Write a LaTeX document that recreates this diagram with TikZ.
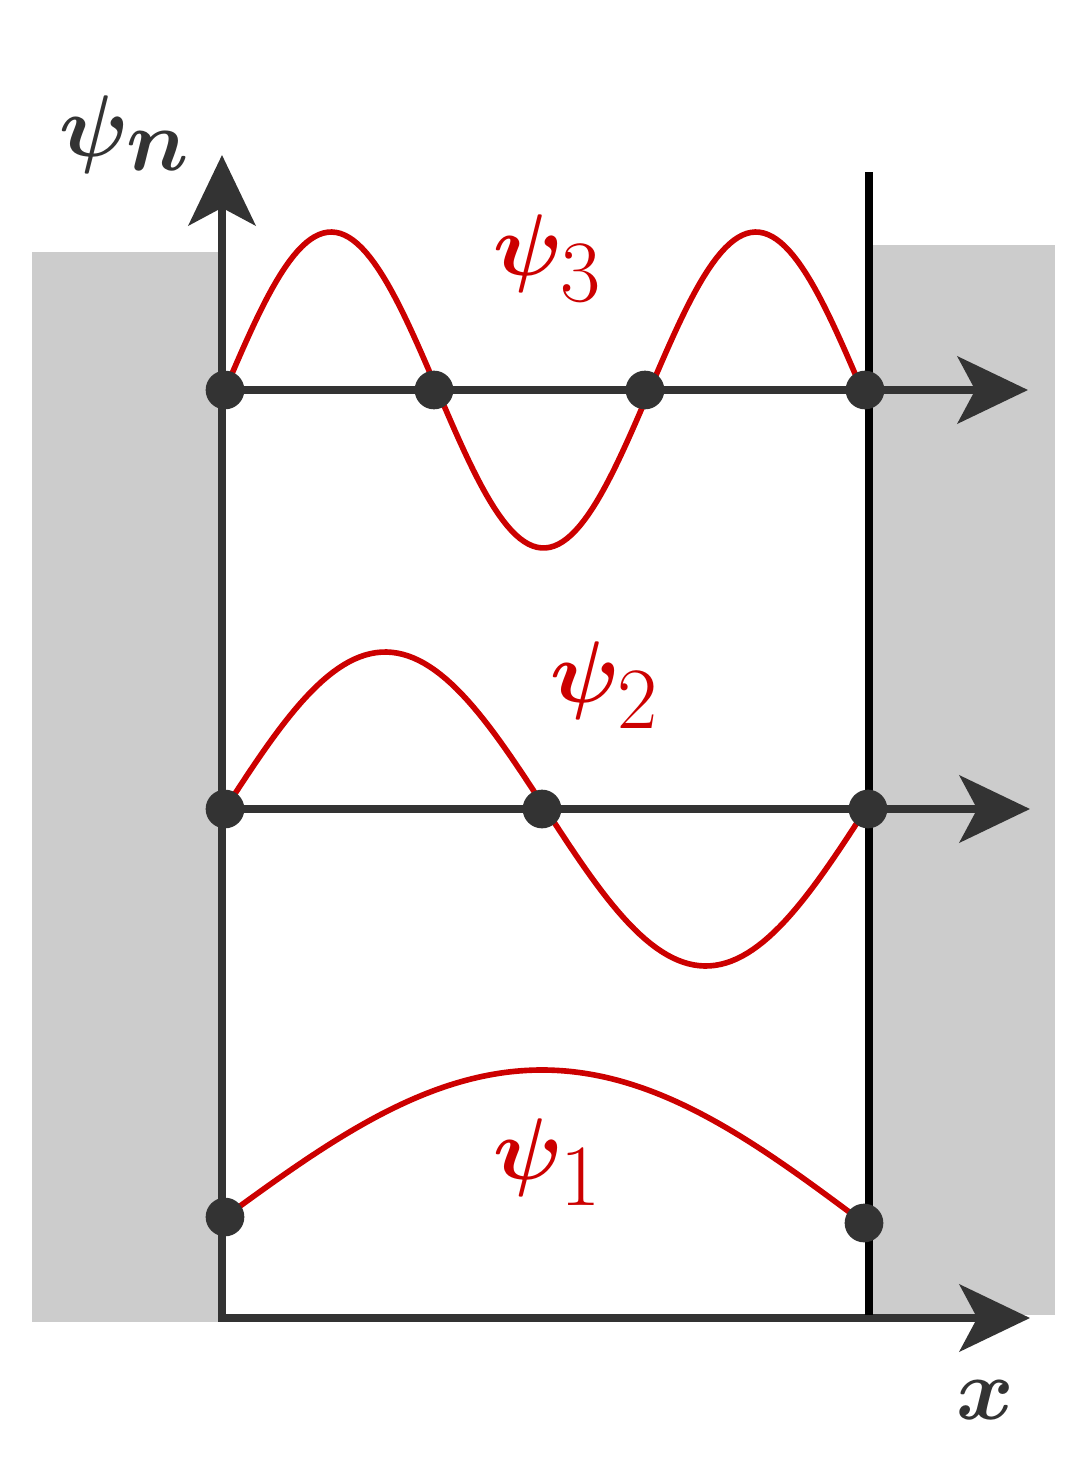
\documentclass[tikz,border=0pt]{standalone}
\usepackage{amsmath,bm}
\usetikzlibrary{arrows.meta}
\begin{document}
\begin{tikzpicture}[x=0.01cm,y=-0.01cm,
  ax/.style={line width=2.4pt,draw=black!80,-{Stealth[length=20pt,width=19pt,inset=5pt]}},
  wall/.style={line width=2.4pt,draw=black},
  wave/.style={line width=1.6pt,draw=red!80!black},
  dot/.style={circle,fill=black!80,minimum size=11pt,inner sep=0pt},
  lab/.style={text=red!80!black,font=\fontsize{40}{48}\selectfont},
  alab/.style={text=black!80,font=\fontsize{40}{48}\selectfont}]
\useasboundingbox (0,0) rectangle (1080,1463);
\fill[black!20] (32,252) rectangle (218,1322);
\fill[black!20] (872,245) rectangle (1055,1315);
% waves
\draw[wave] plot[domain=225:862,samples=150] (\x,{390-158*sin(0.84772*(\x-225))});
\draw[wave] plot[domain=225:866,samples=120] (\x,{809-157*sin(0.56162*(\x-225))});
\draw[wave] plot[domain=225:864,samples=120] (\x,{1217+0.00939*(\x-225)-150*sin(0.28169*(\x-225))});
% axes
\coordinate (o) at (222,1318);
\coordinate (yt) at (222,155);
\coordinate (xt) at (1030,1318);
\draw[ax] (o) -- (yt);
\draw[ax] (218,1318) -- (xt);
\coordinate (a3) at (225,390); \coordinate (a3t) at (1028,390);
\coordinate (a2) at (225,809); \coordinate (a2t) at (1030,809);
\draw[ax] (a3) -- (a3t);
\draw[ax] (a2) -- (a2t);
\coordinate (w1) at (869,172); \coordinate (w2) at (869,1315);
\draw[wall] (w1) -- (w2);
% dots
\node[dot] (d1) at (225,390) {}; \node[dot] (d2) at (434,390) {};
\node[dot] (d3) at (645,390) {}; \node[dot] (d4) at (865,390) {};
\node[dot] (e1) at (225,809) {}; \node[dot] (e2) at (542,809) {};
\node[dot] (e3) at (868,809) {};
\node[dot] (f1) at (225,1217) {}; \node[dot] (f2) at (864,1223) {};
% labels
\node[lab] (l3) at (548,258) {$\bm{\psi}_3$};
\node[lab] (l2) at (605,685) {$\bm{\psi}_2$};
\node[lab] (l1) at (548,1162) {$\bm{\psi}_1$};
\node[alab] (ly) at (125,135) {$\bm{\psi}_{\bm{n}}$};
\node[alab] (lx) at (985,1400) {$\bm{x}$};
\end{tikzpicture}
\end{document}
